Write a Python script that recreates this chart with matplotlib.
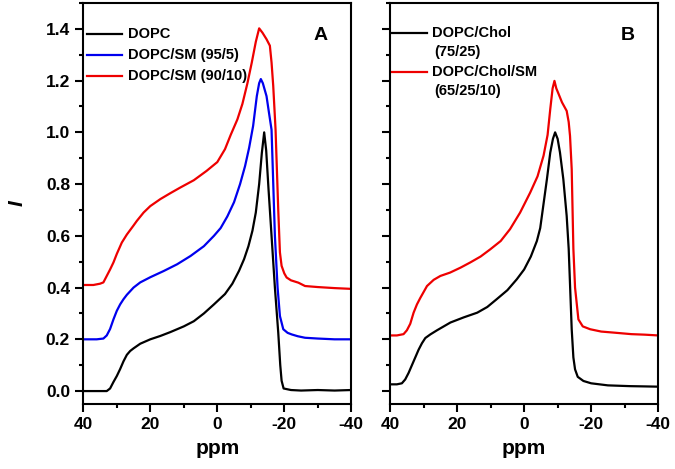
import matplotlib
matplotlib.use("Agg")
import matplotlib.pyplot as plt
from matplotlib.ticker import MultipleLocator

plt.rcParams['font.family'] = ['Liberation Sans', 'DejaVu Sans']
plt.rcParams['font.weight'] = 'bold'
plt.rcParams['axes.unicode_minus'] = False

# Panel A: readings from the spectra (ppm, intensity)
ppm_dopc = [40, 36, 33, 32, 31, 30, 29, 28, 27, 26, 25, 23, 20, 17, 14, 10, 7, 4, 1, -2.3, -4.5,
            -6.5, -8, -9.3, -10.5, -11.5, -12.5, -13.3, -14.0, -14.6, -15.3, -16.2, -17.2, -18.2,
            -18.8, -19.2, -19.8, -22, -25, -30, -35, -40]
int_dopc = [0.0, 0.0, 0.0, 0.01, 0.035, 0.058, 0.085, 0.115, 0.14, 0.155, 0.165, 0.183, 0.2, 0.213,
            0.228, 0.25, 0.27, 0.3, 0.335, 0.375, 0.415, 0.465, 0.51, 0.56, 0.62, 0.69, 0.8, 0.92,
            1.0, 0.93, 0.78, 0.6, 0.4, 0.226, 0.1, 0.04, 0.01, 0.004, 0.002, 0.004, 0.002, 0.004]

ppm_sm5 = [40, 36, 34, 33, 32, 31, 30, 29, 28, 27, 25, 23, 20, 16, 12, 8, 4, 1, -1, -3, -5, -6.8,
           -8.3, -9.5, -10.7, -11.8, -12.5, -13.0, -13.6, -14.7, -15.5, -16.2, -17.2, -18.0, -18.7,
           -19.7, -21, -22.2, -24, -26.2, -30, -35, -40]
int_sm5 = [0.2, 0.2, 0.203, 0.215, 0.24, 0.277, 0.31, 0.335, 0.355, 0.372, 0.4, 0.42, 0.44, 0.464,
           0.49, 0.522, 0.56, 0.6, 0.63, 0.675, 0.73, 0.8, 0.87, 0.94, 1.025, 1.14, 1.19, 1.206,
           1.19, 1.14, 1.07, 1.01, 0.6, 0.4, 0.29, 0.239, 0.225, 0.219, 0.212, 0.206, 0.203, 0.2, 0.2]

ppm_sm10 = [40, 37, 35, 34, 33, 32, 31, 30, 28.5, 27, 25, 24, 22, 20, 17, 14, 11, 7, 3.2, 0, -2.3,
            -4, -6, -7.5, -9, -10.3, -11.5, -12.5, -13.5, -14.7, -15.7, -16.2, -16.7, -17.4,
            -18.2, -18.7, -19.2, -20, -20.7, -22, -24.2, -26.2, -30, -35, -40]
int_sm10 = [0.41, 0.41, 0.415, 0.42, 0.445, 0.47, 0.497, 0.53, 0.574, 0.605, 0.64, 0.658, 0.69,
            0.715, 0.742, 0.765, 0.787, 0.815, 0.851, 0.885, 0.935, 0.99, 1.05, 1.11, 1.19, 1.27,
            1.35, 1.402, 1.385, 1.36, 1.335, 1.27, 1.18, 1.01, 0.7, 0.536, 0.484, 0.455, 0.439,
            0.428, 0.419, 0.406, 0.402, 0.398, 0.395]

# Panel B
ppm_chol = [40, 38, 36.5, 35.5, 34.5, 33.5, 32.5, 31.5, 30.5, 29.5, 28, 26, 24, 22, 18, 14, 11,
            8.2, 5, 2.2, 0, -2, -3.8, -4.8, -5.3, -6.8, -7.8, -8.6, -9.25, -10, -10.7, -11.7,
            -12.7, -13.3, -14.2, -14.7, -15.2, -16, -17.7, -20, -25, -31.6, -36, -40]
int_chol = [0.026, 0.026, 0.03, 0.045, 0.07, 0.1, 0.13, 0.16, 0.185, 0.205, 0.219, 0.235, 0.25,
            0.265, 0.285, 0.303, 0.325, 0.355, 0.39, 0.432, 0.47, 0.52, 0.58, 0.63, 0.677, 0.819,
            0.922, 0.975, 1.0, 0.975, 0.922, 0.819, 0.677, 0.55, 0.239, 0.13, 0.084, 0.055, 0.039,
            0.03, 0.022, 0.019, 0.018, 0.017]

ppm_cholsm = [40, 38, 36, 35, 34, 33, 32, 31, 29, 27, 25, 22.1, 19, 16.1, 13, 10.1, 7, 4.2, 1.2,
              -1.8, -4, -5.8, -7, -7.8, -8.5, -9.05, -9.6, -10.3, -11.3, -12.7, -13.3, -13.7, -14.2,
              -14.7, -15.2, -16.2, -17.5, -19.7, -23, -26.7, -32, -36, -40]
int_cholsm = [0.215, 0.215, 0.22, 0.235, 0.26, 0.303, 0.335, 0.36, 0.406, 0.43, 0.445, 0.458,
              0.477, 0.497, 0.52, 0.548, 0.58, 0.626, 0.69, 0.767, 0.83, 0.91, 0.99, 1.09, 1.17,
              1.199, 1.17, 1.148, 1.116, 1.083, 1.04, 0.986, 0.858, 0.55, 0.4, 0.277, 0.25, 0.239,
              0.23, 0.226, 0.22, 0.218, 0.215]

fig = plt.figure(figsize=(6.75, 4.69), dpi=100)
axA = fig.add_axes([0.1234, 0.1386, 0.397, 0.855])
axB = fig.add_axes([0.578, 0.1386, 0.397, 0.855])

axA.plot(ppm_dopc, int_dopc, color='black', lw=1.6)
axA.plot(ppm_sm5, int_sm5, color='#0000ee', lw=1.6)
axA.plot(ppm_sm10, int_sm10, color='#ee0000', lw=1.6)
axB.plot(ppm_chol, int_chol, color='black', lw=1.6)
axB.plot(ppm_cholsm, int_cholsm, color='#ee0000', lw=1.6)

for ax in (axA, axB):
    ax.set_xlim(40, -40)
    ax.set_ylim(-0.05, 1.5)
    ax.xaxis.set_major_locator(MultipleLocator(20))
    ax.xaxis.set_minor_locator(MultipleLocator(10))
    ax.yaxis.set_major_locator(MultipleLocator(0.2))
    ax.yaxis.set_minor_locator(MultipleLocator(0.1))
    ax.tick_params(which='major', direction='out', length=6, width=1.5, labelsize=12.5)
    ax.tick_params(which='minor', direction='out', length=3, width=1.5)
    for s in ax.spines.values():
        s.set_linewidth(1.5)
    ax.set_xlabel('ppm', fontsize=15, fontweight='bold', labelpad=5)
    for lab in ax.get_xticklabels() + ax.get_yticklabels():
        lab.set_fontweight('bold')

axA.yaxis.set_major_formatter(plt.FormatStrFormatter('%.1f'))
axB.tick_params(labelleft=False)
axA.set_ylabel('I', fontsize=15, fontweight='bold', fontstyle='italic', labelpad=14)

# legends drawn by hand to match the layout
lt = axA.transAxes
axA.plot([0.015, 0.145], [0.923, 0.923], transform=lt, color='black', lw=1.6)
axA.plot([0.015, 0.145], [0.870, 0.870], transform=lt, color='#0000ee', lw=1.6)
axA.plot([0.015, 0.145], [0.818, 0.818], transform=lt, color='#ee0000', lw=1.6)
axA.text(0.167, 0.923, 'DOPC', transform=lt, fontsize=10.5, va='center')
axA.text(0.167, 0.870, 'DOPC/SM (95/5)', transform=lt, fontsize=10.5, va='center')
axA.text(0.167, 0.818, 'DOPC/SM (90/10)', transform=lt, fontsize=10.5, va='center')
axA.text(0.885, 0.92, 'A', transform=lt, fontsize=14, va='center', ha='center')

lb = axB.transAxes
axB.plot([0.007, 0.137], [0.925, 0.925], transform=lb, color='black', lw=1.6)
axB.plot([0.007, 0.137], [0.828, 0.828], transform=lb, color='#ee0000', lw=1.6)
axB.text(0.157, 0.925, 'DOPC/Chol', transform=lb, fontsize=10.5, va='center')
axB.text(0.165, 0.877, '(75/25)', transform=lb, fontsize=10.5, va='center')
axB.text(0.157, 0.828, 'DOPC/Chol/SM', transform=lb, fontsize=10.5, va='center')
axB.text(0.165, 0.78, '(65/25/10)', transform=lb, fontsize=10.5, va='center')
axB.text(0.885, 0.92, 'B', transform=lb, fontsize=14, va='center', ha='center')

fig.savefig('out.png', dpi=100)
